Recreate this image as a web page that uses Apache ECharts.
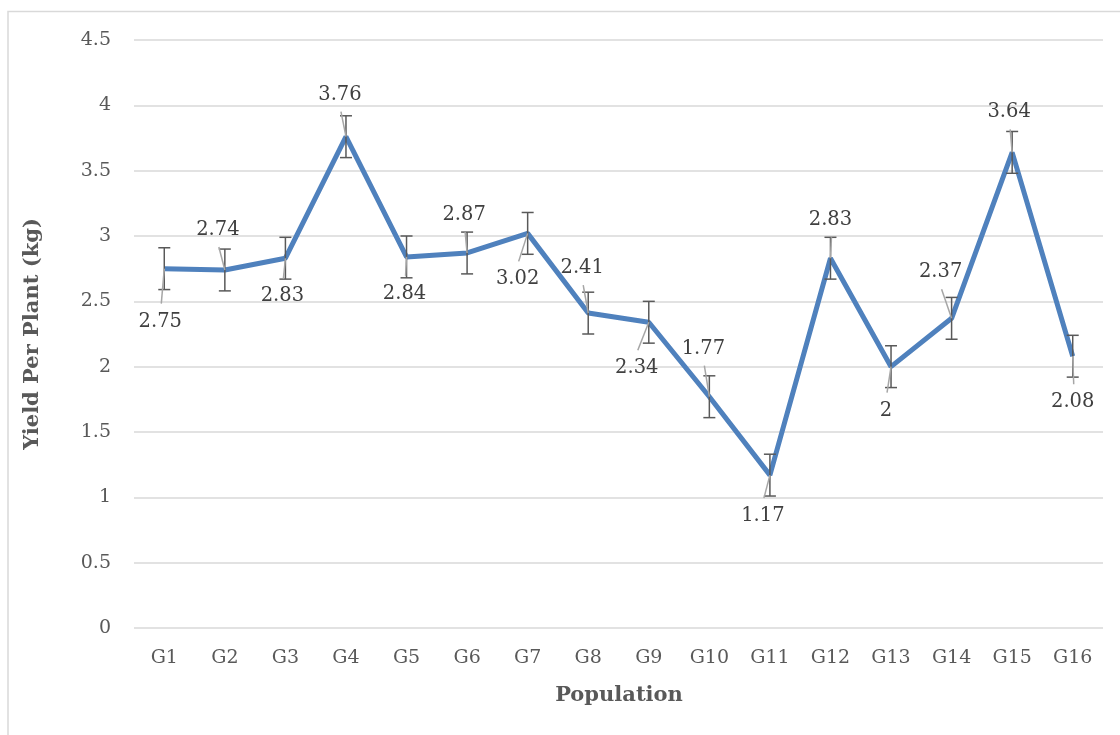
<!DOCTYPE html>
<html><head><meta charset="utf-8">
<script src="https://cdn.jsdelivr.net/npm/echarts@6/dist/echarts.min.js"></script>
<style>html,body{margin:0;padding:0;background:#fff}#c{width:1120px;height:735px}</style>
</head><body><div id="c"></div>
<script>
const categories = ['G1','G2','G3','G4','G5','G6','G7','G8','G9','G10','G11','G12','G13','G14','G15','G16'];
const yieldValues = [2.75,2.74,2.83,3.76,2.84,2.87,3.02,2.41,2.34,1.77,1.17,2.83,2,2.37,3.64,2.08];
const errorValues = [0.16,0.16,0.16,0.16,0.16,0.16,0.16,0.16,0.16,0.16,0.16,0.16,0.16,0.16,0.16,0.16];
const xAxisTitle = 'Population';
const yAxisTitle = 'Yield Per Plant (kg)';

// label layout (pixel offsets of label centre from its point)
const labelOffsets = [[-4,53],[-7,-40],[-3,38],[-6,-42],[-2,37],[-3,-38],[-10,46],[-6,-45],[-12,46],[-6,-48],[-7,41],[0,-38],[-5,44],[-11,-46],[-3,-40],[0,46]];

const FONT = '"DejaVu Serif", serif';
const chart = echarts.init(document.getElementById('c'), null, {renderer:'canvas'});
chart.setOption({
  animation:false,
  backgroundColor:'#fff',
  grid:{left:134, right:17, top:40, bottom:107, containLabel:false},
  xAxis:{type:'category', data:categories, boundaryGap:true,
    axisLine:{show:false}, axisTick:{show:false},
    axisLabel:{color:'#595959', fontFamily:FONT, fontSize:19, margin:21}},
  yAxis:{type:'value', min:0, max:4.5, interval:0.5,
    axisLine:{show:false}, axisTick:{show:false},
    splitLine:{lineStyle:{color:'#d9d9d9', width:1.5}},
    axisLabel:{color:'#595959', fontFamily:FONT, fontSize:19, margin:23}},
  graphic:[
    {type:'rect', shape:{x:8, y:11.5, width:1125, height:740}, style:{fill:'none', stroke:'#d9d9d9', lineWidth:1.5}, silent:true},
    {type:'text', x:619, y:696, style:{text:xAxisTitle, fill:'#595959', font:'bold 21px '+FONT, align:'center', verticalAlign:'middle'}},
    {type:'text', x:33, y:334, rotation:Math.PI/2, style:{text:yAxisTitle, fill:'#595959', font:'bold 21px '+FONT, align:'center', verticalAlign:'middle'}}
  ],
  series:[
    {type:'line', data:yieldValues, symbol:'none', z:2,
      lineStyle:{color:'#4F81BD', width:5}},
    {type:'custom', z:3, clip:false,
      data:yieldValues.map((v,i)=>[i, v, errorValues[i]]),
      encode:{x:0, y:1},
      renderItem:function(params, api){
        const i=api.value(0), v=api.value(1), e=api.value(2);
        const t=api.coord([i, v+e]), b=api.coord([i, v-e]);
        const hw=6, st={stroke:'#595959', lineWidth:1.5};
        return {type:'group', children:[
          {type:'line', shape:{x1:t[0],y1:t[1],x2:b[0],y2:b[1]}, style:st},
          {type:'line', shape:{x1:t[0]-hw,y1:t[1],x2:t[0]+hw,y2:t[1]}, style:st},
          {type:'line', shape:{x1:b[0]-hw,y1:b[1],x2:b[0]+hw,y2:b[1]}, style:st}
        ]};
      }},
    {type:'custom', z:4, clip:false,
      data:yieldValues.map((v,i)=>[i, v]),
      encode:{x:0, y:1},
      renderItem:function(params, api){
        const i=api.value(0), v=api.value(1);
        const p=api.coord([i, v]);
        const off=labelOffsets[params.dataIndex];
        const cx=p[0]+off[0], cy=p[1]+off[1];
        const sy = cy + (off[1]<0 ? 17 : -18);
        return {type:'group', children:[
          {type:'line', shape:{x1:cx+1, y1:sy, x2:p[0], y2:p[1]}, style:{stroke:'#a6a6a6', lineWidth:1.5}},
          {type:'text', x:cx, y:cy, style:{text:String(v), fill:'#404040', font:'19.5px '+FONT, align:'center', verticalAlign:'middle'}}
        ]};
      }}
  ]
});
</script>
</body></html>
